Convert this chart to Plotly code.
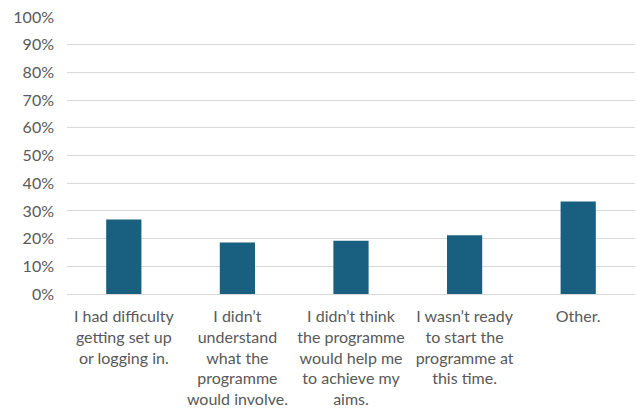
import plotly.graph_objects as go

# Reasons given for not continuing with the programme
categories = [
    "I had difficulty<br>getting set up<br>or logging in.",
    "I didn\u2019t<br>understand<br>what the<br>programme<br>would involve.",
    "I didn\u2019t think<br>the programme<br>would help me<br>to achieve my<br>aims.",
    "I wasn\u2019t ready<br>to start the<br>programme at<br>this time.",
    "Other.",
]
shares = [0.269, 0.186, 0.192, 0.212, 0.334]
tick_values = [i / 10 for i in range(11)]
tick_labels = [f"{i * 10}%" for i in range(11)]

fig = go.Figure(
    go.Bar(
        x=categories,
        y=shares,
        marker=dict(color="#195F80", line=dict(width=0)),
        hoverinfo="skip",
    )
)

fig.update_layout(
    width=637,
    height=409,
    margin=dict(l=67.4, r=1.6, t=16.5, b=114.5),
    paper_bgcolor="white",
    plot_bgcolor="white",
    bargap=0.69,
    showlegend=False,
    font=dict(family="Lato, 'Open Sans', sans-serif", size=16, color="#595959"),
)

fig.update_xaxes(
    range=[-0.5, 4.5],
    showgrid=False,
    showline=False,
    ticks="",
    tickangle=0,
    ticklabelstandoff=11,
    tickfont=dict(size=16, color="#595959"),
)

fig.update_yaxes(
    range=[0, 1],
    tickvals=tick_values,
    ticktext=tick_labels,
    showgrid=True,
    gridcolor="#D9D9D9",
    gridwidth=1,
    zeroline=True,
    zerolinecolor="#D9D9D9",
    zerolinewidth=1,
    showline=False,
    ticks="",
    ticklabelstandoff=12,
    tickfont=dict(size=16, color="#595959"),
)

fig.write_html("out.html")
